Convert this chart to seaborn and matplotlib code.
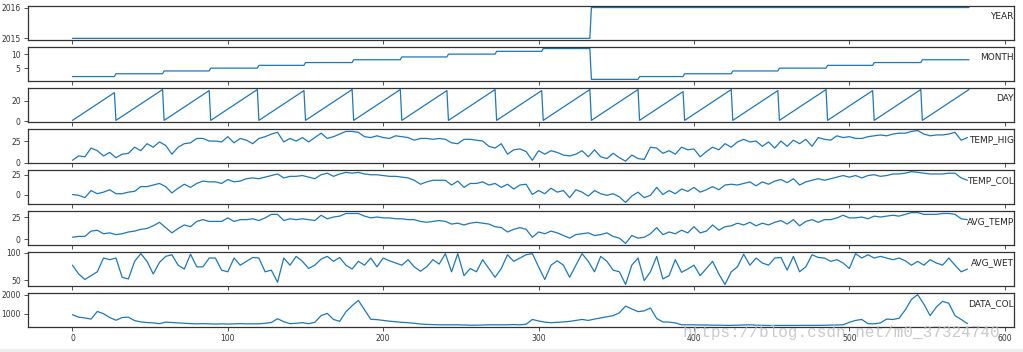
import numpy as np
import pandas as pd
import seaborn as sns
import matplotlib.pyplot as plt
from matplotlib.patches import Rectangle

# 日期范围（每天一行）
START_DATE = "2015-02-01"
END_DATE = "2016-08-31"
STEP = 4  # 连续变量按每4天读取一次

# 各列名称
names = ["YEAR", "MONTH", "DAY", "TEMP_HIG", "TEMP_COL", "AVG_TEMP", "AVG_WET", "DATA_COL"]

temp_hig = [3, 8, 7, 17, 14, 8, 12, 6, 10, 11, 18, 14, 22, 18, 24, 20, 10, 18, 22, 23,
            28, 28, 25, 25, 24, 30, 23, 28, 26, 22, 28, 30, 33, 35, 24, 28, 25, 29, 24, 29,
            34, 28, 30, 33, 36, 36, 35, 30, 29, 31, 29, 28, 31, 30, 29, 26, 28, 28, 27, 28,
            27, 23, 22, 27, 27, 26, 25, 19, 17, 22, 10, 15, 16, 13, 3, 14, 10, 14, 12, 9,
            8, 10, 14, 7, 15, 7, 5, 11, 6, 2, 9, 5, 4, 18, 17, 11, 14, 10, 18, 15,
            16, 7, 13, 18, 15, 22, 18, 24, 27, 24, 25, 19, 24, 17, 25, 19, 26, 22, 27, 19,
            29, 27, 26, 31, 29, 30, 28, 28, 30, 31, 32, 31, 33, 34, 34, 36, 37, 33, 31, 32,
            32, 33, 35, 26, 29]

temp_col = [0, -1, -4, 5, 1, 3, 6, 1, 1, 3, 4, 10, 10, 12, 14, 10, 2, 8, 13, 9,
            14, 17, 16, 16, 14, 19, 16, 17, 20, 21, 20, 22, 24, 26, 21, 23, 23, 24, 22, 20,
            25, 27, 23, 26, 28, 27, 28, 26, 25, 25, 24, 23, 23, 22, 21, 18, 13, 16, 18, 18,
            18, 12, 17, 9, 14, 14, 16, 12, 14, 9, 13, 7, 12, 13, 0, 5, 1, 8, 3, 5,
            -4, 6, 3, -2, 5, 1, -1, 1, -3, -10, -2, 3, -4, -1, 9, 0, 5, 1, 7, 4,
            9, 3, 6, 10, 6, 12, 13, 12, 14, 16, 11, 16, 13, 17, 19, 15, 20, 12, 16, 18,
            20, 18, 20, 22, 24, 22, 24, 21, 24, 25, 23, 24, 26, 26, 27, 29, 28, 27, 26, 26,
            26, 27, 27, 21, 18]

avg_temp = [2, 3, 3, 9, 10, 6, 7, 5, 6, 8, 9, 11, 12, 15, 19, 13, 7, 12, 16, 14,
            20, 22, 20, 20, 20, 24, 20, 22, 22, 23, 21, 24, 28, 28, 21, 23, 22, 23, 22, 21,
            27, 23, 25, 26, 29, 29, 29, 26, 24, 25, 24, 24, 23, 23, 22, 22, 20, 19, 20, 21,
            20, 17, 18, 16, 18, 19, 18, 17, 14, 13, 8, 11, 13, 11, 2, 8, 6, 9, 7, 4,
            1, 5, 6, 7, 4, 5, 7, 3, 1, -5, 4, 1, 2, 6, 13, 5, 8, 6, 10, 7,
            14, 7, 9, 16, 10, 14, 15, 18, 16, 19, 15, 18, 16, 19, 21, 17, 22, 15, 20, 22,
            19, 22, 22, 24, 27, 24, 24, 25, 23, 26, 25, 26, 27, 26, 28, 30, 30, 28, 28, 28,
            29, 29, 28, 23, 22]

avg_wet = [77, 61, 51, 58, 65, 90, 87, 90, 55, 52, 84, 98, 84, 61, 82, 93, 96, 77, 70, 97,
           74, 74, 90, 90, 68, 65, 90, 77, 84, 91, 90, 65, 68, 46, 90, 77, 93, 84, 71, 77,
           88, 93, 84, 91, 77, 70, 84, 77, 90, 74, 90, 85, 81, 77, 87, 74, 66, 74, 87, 79,
           98, 65, 98, 58, 71, 65, 87, 71, 55, 71, 96, 84, 90, 96, 98, 74, 51, 77, 85, 77,
           55, 77, 98, 84, 65, 93, 84, 68, 65, 42, 77, 90, 49, 65, 93, 52, 58, 87, 64, 70,
           77, 58, 71, 84, 61, 42, 65, 74, 97, 77, 90, 81, 77, 90, 91, 68, 93, 65, 74, 96,
           91, 90, 84, 87, 81, 71, 98, 90, 96, 90, 93, 90, 87, 90, 85, 77, 84, 77, 87, 81,
           77, 90, 77, 65, 70]

data_col = [950, 820, 780, 720, 1120, 1000, 800, 660, 800, 820, 640, 570, 540, 520, 480, 560, 540, 520, 500, 480,
            470, 480, 470, 460, 470, 460, 470, 480, 470, 470, 470, 500, 540, 740, 580, 480, 500, 530, 480, 550,
            900, 1020, 700, 600, 1100, 1420, 1700, 1200, 710, 690, 650, 610, 580, 550, 530, 500, 460, 440, 430, 420,
            420, 420, 420, 410, 400, 400, 410, 420, 420, 420, 420, 430, 420, 450, 700, 620, 560, 530, 550, 570,
            600, 650, 700, 650, 720, 780, 840, 900, 1050, 1400, 1250, 1110, 1150, 1300, 750, 570, 560, 520, 420, 420,
            420, 410, 410, 400, 400, 390, 390, 400, 410, 420, 400, 390, 385, 385, 385, 390, 385, 385, 390, 390,
            390, 395, 400, 410, 420, 550, 650, 700, 480, 470, 520, 720, 700, 760, 1200, 1750, 2000, 1500, 900, 1350,
            1650, 1550, 900, 700, 480]

yticks = [[2015, 2016], [5, 10], [0, 20], [0, 25], [0, 25], [0, 25], [50, 100], [1000, 2000]]
xticks = [0, 100, 200, 300, 400, 500, 600]

dates = pd.date_range(START_DATE, END_DATE, freq="D")
days = np.arange(len(dates))
sub = days[::STEP]

series = [
    (days, dates.year.values),
    (days, dates.month.values),
    (days, dates.day.values),
    (sub[:len(temp_hig)], temp_hig),
    (sub[:len(temp_col)], temp_col),
    (sub[:len(avg_temp)], avg_temp),
    (sub[:len(avg_wet)], avg_wet),
    (sub[:len(data_col)], data_col),
]

sns.set_theme(style="ticks")
plt.rcParams['font.family'] = ['DejaVu Sans']
plt.rcParams['axes.edgecolor'] = '#333333'
plt.rcParams['axes.linewidth'] = 0.9

fig, axes = plt.subplots(8, 1, figsize=(10.23, 3.52), dpi=100)
fig.subplots_adjust(left=0.027, right=0.991, top=0.983, bottom=0.071, hspace=0.21)

for ax, name, (x, y), yt in zip(axes, names, series, yticks):
    sns.lineplot(x=x, y=y, ax=ax, color="#1f77b4", linewidth=0.9, estimator=None)
    ax.set_xlim(-28.85, 605.85)
    ax.set_xticks(xticks)
    ax.set_yticks(yt)
    ax.tick_params(labelsize=5.5, length=3, width=0.6, pad=2, colors='#333333')
    ax.set_xlabel("")
    ax.set_ylabel("")
    ax.text(1.0, 0.68, name, transform=ax.transAxes, ha="right", va="center", fontsize=6.5)

# 水印
fig.text(0.667, 0.054, "https://blog.csdn.net/m0_37324740", color="#bdbdbd", alpha=0.8,
         fontsize=11.5, family="Liberation Mono", va="center", ha="left")
fig.patches.append(Rectangle((0, 0), 1, 0.009, transform=fig.transFigure, color="#eeeeee", zorder=-1))

plt.savefig("out.png", dpi=100)
